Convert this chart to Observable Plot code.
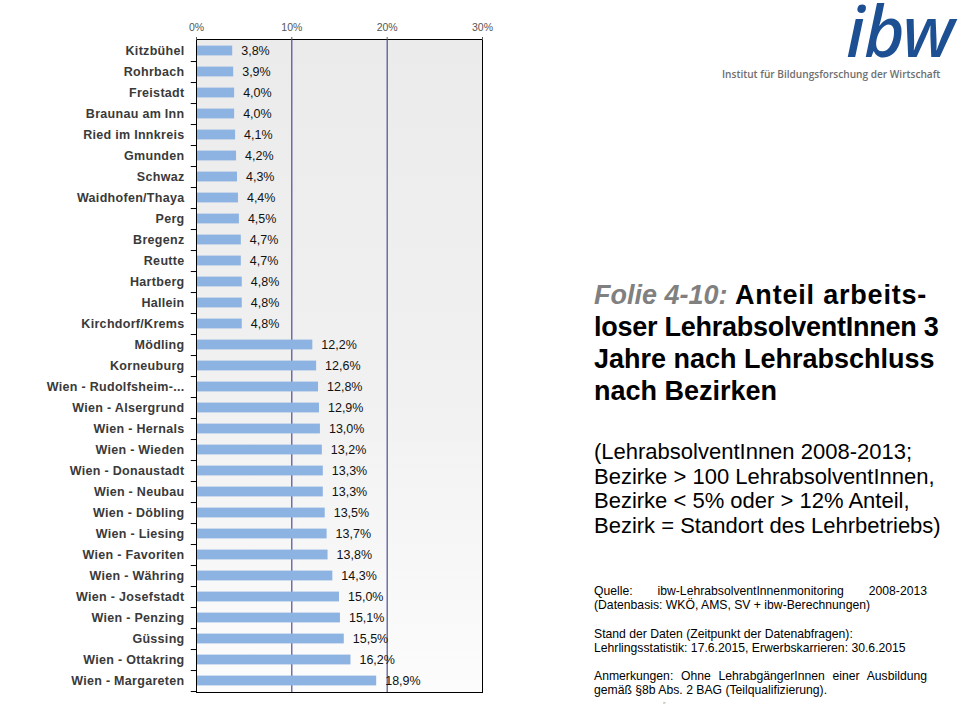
<!DOCTYPE html>
<html>
<head>
<meta charset="utf-8">
<script src="https://cdn.jsdelivr.net/npm/d3@7"></script>
<script src="https://cdn.jsdelivr.net/npm/@observablehq/plot@0.6"></script>
<style>
  html, body { margin: 0; padding: 0; background: #ffffff; }
  body { width: 960px; height: 720px; position: relative; overflow: hidden; font-family: "Liberation Sans", Arial, sans-serif; }
  #chart { position: absolute; left: 0; top: 0; }
  .catlab text { letter-spacing: 0.3px; }
  #logo { position: absolute; left: 846px; top: 5px; font-family: "Noto Sans", sans-serif; font-style: italic; font-weight: 500; font-size: 70px; line-height: 50px; color: #1d4f93; letter-spacing: -1px; }
  #logosub { position: absolute; left: 722px; top: 67px; font-family: "Open Sans", sans-serif; font-weight: 600; font-size: 10.1px; color: #6e6e6e; white-space: nowrap; }
  #title { position: absolute; left: 594px; top: 279px; font-size: 27px; line-height: 32px; font-weight: bold; color: #000; white-space: nowrap; }
  #title .folie { color: #808080; font-style: italic; }
  #title .wide { letter-spacing: 0.8px; }
  #title .tight { letter-spacing: -0.25px; }
  #sub { position: absolute; left: 594px; top: 440px; font-size: 22px; line-height: 24.5px; color: #000; white-space: nowrap; }
  #foot { position: absolute; left: 594px; top: 584px; width: 333px; font-size: 12.2px; line-height: 14.2px; color: #000; white-space: nowrap; }
  #foot .j { text-align: justify; text-align-last: justify; }
  #foot .gap { height: 14.2px; }
  #mark { position: absolute; left: 663px; top: 701px; font-size: 7px; color: #999; }
</style>
</head>
<body>
<div id="chart"></div>
<div id="logo">ibw</div>
<div id="logosub">Institut für Bildungsforschung der Wirtschaft</div>
<div id="title"><span class="folie">Folie 4-10:</span> <span class="wide">Anteil arbeits-</span><br><span class="tight">loser LehrabsolventInnen 3</span><br>Jahre nach Lehrabschluss<br>nach Bezirken</div>
<div id="sub">(LehrabsolventInnen 2008-2013;<br>Bezirke &gt; 100 LehrabsolventInnen,<br>Bezirke &lt; 5% oder &gt; 12% Anteil,<br>Bezirk = Standort des Lehrbetriebs)</div>
<div id="foot">
  <div class="j">Quelle: ibw-LehrabsolventInnenmonitoring 2008-2013</div>
  <div>(Datenbasis: WKÖ, AMS, SV + ibw-Berechnungen)</div>
  <div class="gap"></div>
  <div>Stand der Daten (Zeitpunkt der Datenabfragen):</div>
  <div>Lehrlingsstatistik: 17.6.2015, Erwerbskarrieren: 30.6.2015</div>
  <div class="gap"></div>
  <div class="j">Anmerkungen: Ohne LehrabgängerInnen einer Ausbildung</div>
  <div>gemäß §8b Abs. 2 BAG (Teilqualifizierung).</div>
</div>
<div id="mark">″</div>
<script>
const categories = [
  "Kitzbühel", "Rohrbach", "Freistadt", "Braunau am Inn", "Ried im Innkreis",
  "Gmunden", "Schwaz", "Waidhofen/Thaya", "Perg", "Bregenz", "Reutte",
  "Hartberg", "Hallein", "Kirchdorf/Krems", "Mödling", "Korneuburg",
  "Wien - Rudolfsheim-...", "Wien - Alsergrund", "Wien - Hernals", "Wien - Wieden",
  "Wien - Donaustadt", "Wien - Neubau", "Wien - Döbling", "Wien - Liesing",
  "Wien - Favoriten", "Wien - Währing", "Wien - Josefstadt", "Wien - Penzing",
  "Güssing", "Wien - Ottakring", "Wien - Margareten"
];
const values = [
  3.8, 3.9, 4.0, 4.0, 4.1, 4.2, 4.3, 4.4, 4.5, 4.7, 4.7,
  4.8, 4.8, 4.8, 12.2, 12.6, 12.8, 12.9, 13.0, 13.2,
  13.3, 13.3, 13.5, 13.7, 13.8, 14.3, 15.0, 15.1,
  15.5, 16.2, 18.9
];
const xTicks = [0, 10, 20, 30];
const gridTicks = [10, 20];

const data = categories.map((c, i) => ({category: c, value: values[i]}));

const W = 500, H = 700, mL = 196, mR = 18, mT = 39, mB = 8;
const step = (H - mT - mB) / categories.length;
const fmt = v => v.toFixed(1).replace(".", ",") + "%";

function background(index, scales, values, dims) {
  const g = d3.create("svg:g");
  const grad = g.append("defs").append("linearGradient")
    .attr("id", "bggrad").attr("x1", 0).attr("y1", 0).attr("x2", 0).attr("y2", 1);
  grad.append("stop").attr("offset", "0%").attr("stop-color", "#ebebeb");
  grad.append("stop").attr("offset", "55%").attr("stop-color", "#f1f1f1");
  grad.append("stop").attr("offset", "100%").attr("stop-color", "#fcfcfc");
  g.append("rect")
    .attr("x", dims.marginLeft).attr("y", dims.marginTop)
    .attr("width", dims.width - dims.marginLeft - dims.marginRight)
    .attr("height", dims.height - dims.marginTop - dims.marginBottom)
    .attr("fill", "url(#bggrad)");
  return g.node();
}

const chart = Plot.plot({
  width: W, height: H,
  marginLeft: mL, marginRight: mR, marginTop: mT, marginBottom: mB,
  style: {fontFamily: "'Liberation Sans', Arial, sans-serif", background: "transparent", overflow: "visible"},
  x: {domain: [0, 30]},
  y: {domain: categories, padding: 0, axis: null},
  marks: [
    background,
    Plot.ruleX(gridTicks, {x: d => d, stroke: "#2d2d80", strokeWidth: 1}),
    Plot.barX(data, {x: "value", y: "category", fill: "#8db3e2", insetTop: 5.6, insetBottom: 5.6}),
    Plot.frame({stroke: "#000", strokeWidth: 1}),
    Plot.ruleY(categories, {y: d => d, x1: -0.55, x2: 0, dy: step / 2, stroke: "#000", strokeWidth: 1}),
    Plot.axisX({anchor: "top", ticks: xTicks, tickFormat: d => d + "%", tickSize: 3, tickPadding: 6, fontSize: 10.5, color: "#555", label: null}),
    Plot.text(categories, {y: d => d, x: 0, dx: -12, text: d => d, textAnchor: "end", fontSize: 12.5, fontWeight: "bold", fill: "#3a3a3a", className: "catlab"}),
    Plot.text(data, {x: "value", y: "category", text: d => fmt(d.value), dx: 8.5, textAnchor: "start", fontSize: 12.5, fill: "#111"})
  ]
});
document.getElementById("chart").appendChild(chart);
</script>
</body>
</html>
